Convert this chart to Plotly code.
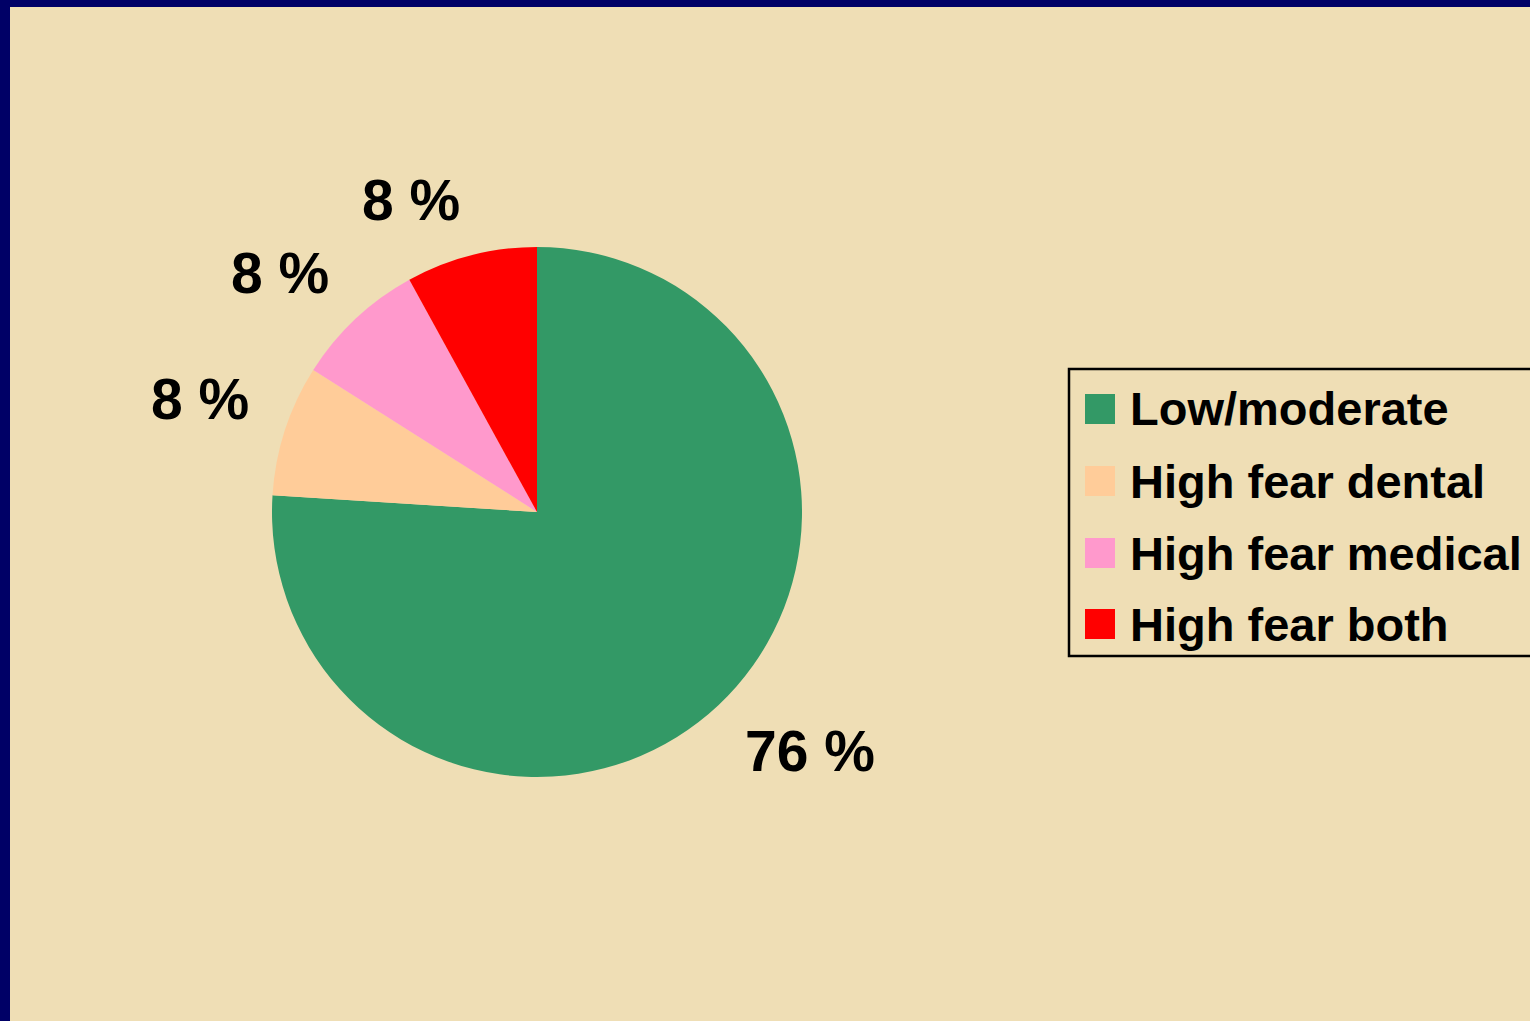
import math

import plotly.graph_objects as go

W, H = 1530, 1021

# data
categories = ["Low/moderate", "High fear dental", "High fear medical", "High fear both"]
values = [76, 8, 8, 8]
colors = ["#339966", "#FFCC99", "#FF99CC", "#FF0000"]

FONT = "Arial, Liberation Sans, sans-serif"


def px_x(x):
    return x / W


def px_y(y):
    # pixel row from top -> paper y from bottom
    return 1 - y / H


# pie: centre (537, 512), radius ~265 px
cx, cy, r = 537, 512, 265

fig = go.Figure()
fig.add_trace(
    go.Pie(
        labels=categories,
        values=values,
        marker=dict(colors=colors, line=dict(width=0)),
        sort=False,
        direction="clockwise",
        rotation=0,
        textinfo="none",
        hoverinfo="label+percent",
        showlegend=False,
        domain=dict(
            x=[px_x(cx - r), px_x(cx + r)],
            y=[px_y(cy + r), px_y(cy - r)],
        ),
    )
)

shapes = [
    # beige slide area inside the navy frame
    dict(type="rect", xref="paper", yref="paper", x0=px_x(10), x1=1.01, y0=-0.01, y1=px_y(7),
         fillcolor="#EFDEB5", line=dict(width=0), layer="below"),
    # legend box
    dict(type="rect", xref="paper", yref="paper", x0=px_x(1069), x1=px_x(1545),
         y0=px_y(656), y1=px_y(369), line=dict(color="black", width=2.5), layer="above"),
]
annotations = []

# outside labels, placed off the middle of each slice (PowerPoint style)
total = sum(values)
gap = 36
half_h = 20
cum = 0
for v in values:
    theta = math.radians((cum + v / 2) / total * 360)
    cum += v
    sx, cy_up = math.sin(theta), math.cos(theta)
    px = cx + (r + gap) * sx
    py = cy - (r + gap) * cy_up
    py = py - half_h if cy_up > 0 else py + half_h
    annotations.append(dict(text=f"{v} %", xref="paper", yref="paper",
                            x=px_x(px), y=px_y(py),
                            xanchor="left" if sx > 0 else "right", yanchor="middle",
                            showarrow=False,
                            font=dict(family=FONT, size=57, color="black", weight="bold")))

# hand-built legend, swatches are big in the original
row_y = [409, 481, 553, 624]
for name, col, yy in zip(categories, colors, row_y):
    shapes.append(dict(type="rect", xref="paper", yref="paper",
                       x0=px_x(1085), x1=px_x(1115), y0=px_y(yy + 15), y1=px_y(yy - 15),
                       fillcolor=col, line=dict(width=0)))
    annotations.append(dict(text=name, xref="paper", yref="paper", x=px_x(1128), y=px_y(yy),
                            xanchor="left", yanchor="middle", showarrow=False,
                            font=dict(family=FONT, size=47, color="black", weight="bold")))

fig.update_layout(
    width=W,
    height=H,
    margin=dict(l=0, r=0, t=0, b=0),
    paper_bgcolor="#000066",
    plot_bgcolor="#EFDEB5",
    shapes=shapes,
    annotations=annotations,
    showlegend=False,
)

fig.write_html(
    "out.html",
    config={"displayModeBar": False},
    post_script="document.body.style.margin = '0';",
)
